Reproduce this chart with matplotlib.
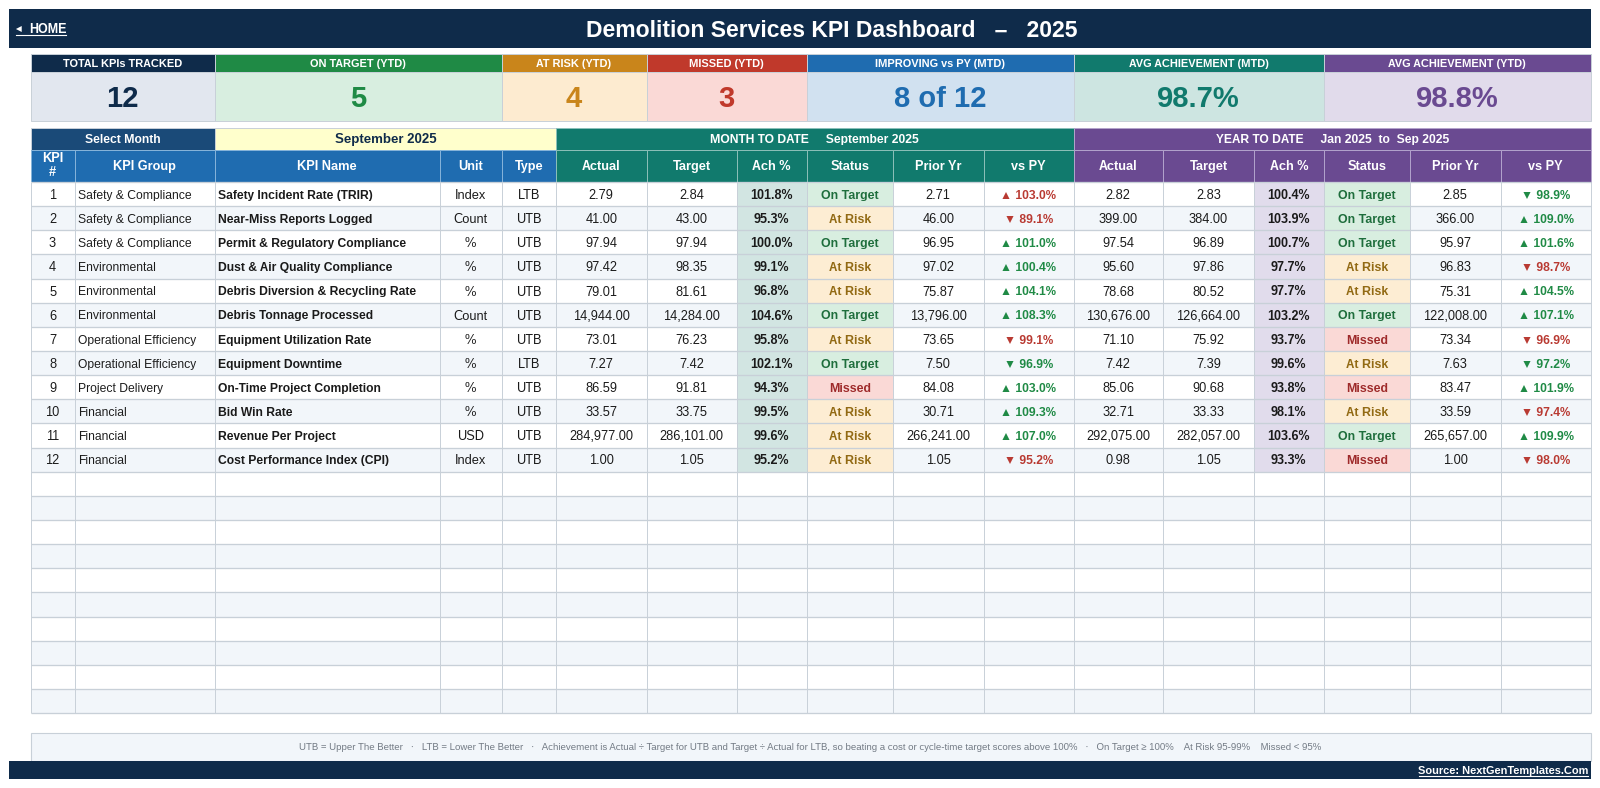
import matplotlib
matplotlib.use("Agg")
import matplotlib.pyplot as plt
from matplotlib.patches import Rectangle

plt.rcParams['font.family'] = ['Liberation Sans', 'DejaVu Sans']
plt.rcParams['text.hinting'] = 'native'

# --- data ---
title = "Demolition Services KPI Dashboard   \u2013   2025"
month = "September 2025"

card_titles = ["TOTAL KPIs TRACKED", "ON TARGET (YTD)", "AT RISK (YTD)", "MISSED (YTD)",
               "IMPROVING vs PY (MTD)", "AVG ACHIEVEMENT (MTD)", "AVG ACHIEVEMENT (YTD)"]
card_values = ["12", "5", "4", "3", "8 of 12", "98.7%", "98.8%"]

kpi_groups = ["Safety & Compliance", "Safety & Compliance", "Safety & Compliance",
              "Environmental", "Environmental", "Environmental",
              "Operational Efficiency", "Operational Efficiency", "Project Delivery",
              "Financial", "Financial", "Financial"]
kpi_names = ["Safety Incident Rate (TRIR)", "Near-Miss Reports Logged", "Permit & Regulatory Compliance",
             "Dust & Air Quality Compliance", "Debris Diversion & Recycling Rate", "Debris Tonnage Processed",
             "Equipment Utilization Rate", "Equipment Downtime", "On-Time Project Completion",
             "Bid Win Rate", "Revenue Per Project", "Cost Performance Index (CPI)"]
units = ["Index", "Count", "%", "%", "%", "Count", "%", "%", "%", "%", "USD", "Index"]
types = ["LTB", "UTB", "UTB", "UTB", "UTB", "UTB", "UTB", "LTB", "UTB", "UTB", "UTB", "UTB"]

mtd_actual = [2.79, 41.00, 97.94, 97.42, 79.01, 14944.00, 73.01, 7.27, 86.59, 33.57, 284977.00, 1.00]
mtd_target = [2.84, 43.00, 97.94, 98.35, 81.61, 14284.00, 76.23, 7.42, 91.81, 33.75, 286101.00, 1.05]
mtd_ach = [101.8, 95.3, 100.0, 99.1, 96.8, 104.6, 95.8, 102.1, 94.3, 99.5, 99.6, 95.2]
mtd_status = ["On Target", "At Risk", "On Target", "At Risk", "At Risk", "On Target",
              "At Risk", "On Target", "Missed", "At Risk", "At Risk", "At Risk"]
mtd_prior = [2.71, 46.00, 96.95, 97.02, 75.87, 13796.00, 73.65, 7.50, 84.08, 30.71, 266241.00, 1.05]
mtd_vs_py = [103.0, 89.1, 101.0, 100.4, 104.1, 108.3, 99.1, 96.9, 103.0, 109.3, 107.0, 95.2]

ytd_actual = [2.82, 399.00, 97.54, 95.60, 78.68, 130676.00, 71.10, 7.42, 85.06, 32.71, 292075.00, 0.98]
ytd_target = [2.83, 384.00, 96.89, 97.86, 80.52, 126664.00, 75.92, 7.39, 90.68, 33.33, 282057.00, 1.05]
ytd_ach = [100.4, 103.9, 100.7, 97.7, 97.7, 103.2, 93.7, 99.6, 93.8, 98.1, 103.6, 93.3]
ytd_status = ["On Target", "On Target", "On Target", "At Risk", "At Risk", "On Target",
              "Missed", "At Risk", "Missed", "At Risk", "On Target", "Missed"]
ytd_prior = [2.85, 366.00, 95.97, 96.83, 75.31, 122008.00, 73.34, 7.63, 83.47, 33.59, 265657.00, 1.00]
ytd_vs_py = [98.9, 109.0, 101.6, 98.7, 104.5, 107.1, 96.9, 97.2, 101.9, 97.4, 109.9, 98.0]

left_headers = ["KPI\n#", "KPI Group", "KPI Name", "Unit", "Type"]
period_headers = ["Actual", "Target", "Ach %", "Status", "Prior Yr", "vs PY"]
note = ("UTB = Upper The Better   \u00b7   LTB = Lower The Better   \u00b7   Achievement is Actual \u00f7 Target for UTB "
        "and Target \u00f7 Actual for LTB, so beating a cost or cycle-time target scores above 100%   \u00b7   "
        "On Target \u2265 100%    At Risk 95-99%    Missed < 95%")

# --- layout, in pixels ---
col_x = [30.6, 74.5, 215, 439.5, 501.5, 556, 646.5, 736.7, 806.5, 893, 983.5,
         1073.5, 1163, 1254, 1323.5, 1410, 1500.5, 1591]
card_x = [30.6, 215, 501.5, 646.5, 806.5, 1073.5, 1323.5, 1591]
row_top = 182
row_h = 24.14
n_rows = 22

NAVY = "#0F2B4A"
GREEN = "#1F8A45"
AMBER = "#C9851B"
RED = "#C0392B"
BLUE = "#1F6CB0"
TEAL = "#117A6D"
PURPLE = "#6A4A91"
GRID = "#C8D0D8"
INK = "#1A1A1A"

card_colors = [NAVY, GREEN, AMBER, RED, BLUE, TEAL, PURPLE]
card_fills = ["#E2E7EF", "#D8EEE0", "#FDEBD0", "#FAD9D6", "#D1E1F0", "#CDE5E1", "#E1DBEB"]
status_fill = {"On Target": "#D8EEE0", "At Risk": "#FDEDD3", "Missed": "#FAD9D6"}
status_text = {"On Target": "#1E6E3C", "At Risk": "#926A14", "Missed": "#9E2A2A"}

fig = plt.figure(figsize=(16, 7.88), dpi=100)
ax = fig.add_axes([0, 0, 1, 1])
ax.set_xlim(0, 1600)
ax.set_ylim(788, 0)
ax.axis("off")


def box(x0, x1, y0, y1, fill, edge=None, lw=1.0):
    ax.add_patch(Rectangle((x0, y0), x1 - x0, y1 - y0, facecolor=fill,
                           edgecolor=edge if edge else "none", linewidth=lw))


def label(x, y, s, size=9.2, color=INK, weight="normal", ha="center", **kw):
    # sit the baseline so the capitals are centred on y, keeps every cell in a row level
    return ax.text(x, y + 0.497 * size, s, fontsize=size, color=color, fontweight=weight,
                   ha=ha, va="baseline", **kw)


# banner
box(8.7, 1591, 9, 48, NAVY)
label(832, 28.5, title, size=16.5, color="white", weight="bold")
label(17.5, 28.5, "\u25c4", size=7, color="white", weight="bold")
label(29, 28.5, "HOME", size=9, color="white", weight="bold", ha="left")
ax.plot([16, 66], [35, 35], color="white", lw=0.8)

# kpi cards
for i in range(len(card_titles)):
    x0, x1 = card_x[i], card_x[i + 1]
    box(x0, x1, 54, 72, card_colors[i], GRID, 0.7)
    box(x0, x1, 72, 120.5, card_fills[i], GRID, 0.7)
    label((x0 + x1) / 2, 62.6, card_titles[i], size=7.9, color="white", weight="bold")
    label((x0 + x1) / 2, 97, card_values[i], size=21, color=card_colors[i], weight="bold")

# select month + section bars
box(col_x[0], col_x[2], 128, 149.5, "#1A4A78", GRID, 0.7)
box(col_x[2], col_x[5], 128, 149.5, "#FFFFCC", GRID, 0.7)
box(col_x[5], col_x[11], 128, 149.5, TEAL, "#8CC0B9", 0.7)
box(col_x[11], col_x[17], 128, 149.5, PURPLE, "#B3A3CC", 0.7)
label((col_x[0] + col_x[2]) / 2, 138.5, "Select Month", size=8.7, color="white", weight="bold")
label((col_x[2] + col_x[5]) / 2, 138.5, month, size=9.5, color=NAVY, weight="bold")
label((col_x[5] + col_x[11]) / 2, 138.5, "MONTH TO DATE     " + month, size=8.7, color="white", weight="bold")
label((col_x[11] + col_x[17]) / 2, 138.5, "YEAR TO DATE     Jan 2025  to  Sep 2025", size=8.7, color="white", weight="bold")

# column headers
for c in range(17):
    if c < 5:
        fill, edge, head = BLUE, "#86B4DA", left_headers[c]
    elif c < 11:
        fill, edge, head = TEAL, "#8CC0B9", period_headers[c - 5]
    else:
        fill, edge, head = PURPLE, "#B3A3CC", period_headers[c - 11]
    box(col_x[c], col_x[c + 1], 149.5, row_top, fill, edge, 0.7)
    mid_x = (col_x[c] + col_x[c + 1]) / 2
    if "\n" in head:
        ax.text(mid_x, 165.7, head, fontsize=9.2, color="white", fontweight="bold",
                ha="center", va="center", linespacing=1.05)
    else:
        label(mid_x, 165.5, head, size=9.2, color="white", weight="bold")

# table body
for r in range(n_rows):
    y0 = row_top + r * row_h
    y1 = y0 + row_h
    ym = (y0 + y1) / 2 + 0.3
    box(col_x[0], col_x[17], y0, y1, "#FFFFFF" if r % 2 == 0 else "#F2F6FA")
    if r >= 12:
        continue

    box(col_x[7], col_x[8], y0, y1, "#D2E5E2")
    box(col_x[13], col_x[14], y0, y1, "#E1DCEC")

    label((col_x[0] + col_x[1]) / 2, ym, str(r + 1))
    label(col_x[1] + 3.5, ym, kpi_groups[r], size=8.7, ha="left")
    label(col_x[2] + 3.5, ym, kpi_names[r], size=8.7, weight="bold", ha="left")
    label((col_x[3] + col_x[4]) / 2, ym, units[r])
    label((col_x[4] + col_x[5]) / 2, ym, types[r])

    blocks = [(5, mtd_actual, mtd_target, mtd_ach, mtd_status, mtd_prior, mtd_vs_py),
              (11, ytd_actual, ytd_target, ytd_ach, ytd_status, ytd_prior, ytd_vs_py)]
    for start, actual, target, ach, status, prior, vs_py in blocks:
        mid = [(col_x[start + k] + col_x[start + k + 1]) / 2 for k in range(6)]
        label(mid[0], ym, f"{actual[r]:,.2f}")
        label(mid[1], ym, f"{target[r]:,.2f}")
        label(mid[2], ym, f"{ach[r]:.1f}%", size=9, weight="bold")
        st = status[r]
        box(col_x[start + 3], col_x[start + 4], y0, y1, status_fill[st])
        label(mid[3], ym, st, size=8.9, color=status_text[st], weight="bold")
        label(mid[4], ym, f"{prior[r]:,.2f}")
        up = vs_py[r] >= 100
        good = up if types[r] == "UTB" else not up
        arrow = "\u25b2" if up else "\u25bc"
        label(mid[5], ym, f"{arrow} {vs_py[r]:.1f}%", size=8.7, color="#1F8A45" if good else "#B93A32", weight="bold")

# grid over the fills, horizontals a touch heavier than verticals
row_lines = [row_top + r * row_h for r in range(n_rows + 1)]
ax.hlines(row_lines, col_x[0], col_x[17], color=GRID, lw=0.95)
ax.vlines(col_x, row_top, row_lines[-1], color=GRID, lw=0.7)

# footnote + bottom bar
box(30.6, 1591, 733, 761, "#F2F6FA", GRID, 0.8)
label(810.5, 747, note, size=6.95, color="#737B85")
box(8.7, 1591, 761, 779, NAVY)
label(1588, 769.7, "Source: NextGenTemplates.Com", size=7.9, color="white", weight="bold", ha="right")
ax.plot([1419, 1588], [775.8, 775.8], color="white", lw=0.8)

fig.savefig("out.png", dpi=100)
